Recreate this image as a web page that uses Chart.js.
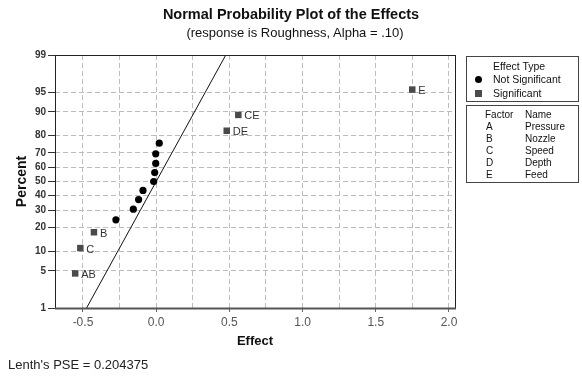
<!DOCTYPE html>
<html>
<head>
<meta charset="utf-8">
<script src="https://cdn.jsdelivr.net/npm/chart.js@4.4.1/dist/chart.umd.min.js"></script>
<style>
  body { margin: 0; background: #fff; }
  #wrap { position: relative; width: 582px; height: 376px; font-family: "Liberation Sans", Arial, sans-serif; color: #111; }
  #c { position: absolute; left: 0; top: 0; }
  .t { position: absolute; white-space: nowrap; }
  #title { left: 0; width: 582px; text-align: center; top: 6px; font-size: 14.5px; font-weight: bold; }
  #sub { left: 4px; width: 582px; text-align: center; top: 25px; font-size: 13px; }
  .box { position: absolute; left: 466px; width: 113px; border: 1px solid #444; box-sizing: border-box; }
  #box1 { top: 56px; height: 46px; }
  #box2 { top: 105px; height: 78px; }
  .lg { font-size: 10.5px; }
  .fn { font-size: 10px; }
  #pse { left: 8px; top: 357px; font-size: 13px; color: #222; }
  .dot { position: absolute; width: 7px; height: 7px; border-radius: 50%; background: #000; }
  .sq { position: absolute; width: 7px; height: 7px; background: #4a4a4a; }
</style>
</head>
<body>
<div id="wrap">
  <canvas id="c" width="582" height="376"></canvas>
  <div class="t" id="title">Normal Probability Plot of the Effects</div>
  <div class="t" id="sub">(response is Roughness, Alpha = .10)</div>
  <div class="box" id="box1"></div>
  <div class="box" id="box2"></div>
  <div class="t" id="pse"></div>
</div>
<script>
// === ДАННЫЕ ===
// значимые эффекты (квадраты)
const sigNames = ['AB', 'C', 'B', 'DE', 'CE', 'E'];
const sigEffects = [-0.553, -0.518, -0.425, 0.482, 0.561, 1.749];
const sigPercents = [4.55, 11.04, 17.53, 82.47, 88.96, 95.45];

// незначимые эффекты (точки)
const notSigEffects = [-0.275, -0.156, -0.12, -0.09, -0.017, -0.01, -0.003, -0.003, 0.021];
const notSigPercents = [24.03, 30.52, 37.01, 43.51, 50.0, 56.49, 62.99, 69.48, 75.97];

// линия нормального распределения: эффект = PSE * z
const lenthPSE = 0.204375;
const refLinePercents = [1, 99];

// оси
const yTickPercents = [1, 5, 10, 20, 30, 40, 50, 60, 70, 80, 90, 95, 99];
const xGridValues = [-0.5, -0.25, 0, 0.25, 0.5, 0.75, 1.0, 1.25, 1.5, 1.75, 2.0];
const xTickLabels = [-0.5, 0, 0.5, 1.0, 1.5, 2.0];

// легенда
const effectTypes = ['Not Significant', 'Significant'];
const factorLetters = ['A', 'B', 'C', 'D', 'E'];
const factorNames = ['Pressure', 'Nozzle', 'Speed', 'Depth', 'Feed'];

// === обратная функция нормального распределения (Acklam) ===
function probit(p) {
  const a = [-3.969683028665376e+01, 2.209460984245205e+02, -2.759285104469687e+02, 1.383577518672690e+02, -3.066479806614716e+01, 2.506628277459239e+00];
  const b = [-5.447609879822406e+01, 1.615858368580409e+02, -1.556989798598866e+02, 6.680131188771972e+01, -1.328068155288572e+01];
  const c = [-7.784894002430293e-03, -3.223964580411365e-01, -2.400758277161838e+00, -2.549732539343734e+00, 4.374664141464968e+00, 2.938163982698783e+00];
  const d = [7.784695709041462e-03, 3.224671290700398e-01, 2.445134137142996e+00, 3.754408661907416e+00];
  const pl = 0.02425;
  let q, r;
  if (p < pl) {
    q = Math.sqrt(-2 * Math.log(p));
    return (((((c[0]*q+c[1])*q+c[2])*q+c[3])*q+c[4])*q+c[5]) / ((((d[0]*q+d[1])*q+d[2])*q+d[3])*q+1);
  }
  if (p > 1 - pl) {
    q = Math.sqrt(-2 * Math.log(1 - p));
    return -(((((c[0]*q+c[1])*q+c[2])*q+c[3])*q+c[4])*q+c[5]) / ((((d[0]*q+d[1])*q+d[2])*q+d[3])*q+1);
  }
  q = p - 0.5; r = q * q;
  return (((((a[0]*r+a[1])*r+a[2])*r+a[3])*r+a[4])*r+a[5])*q / (((((b[0]*r+b[1])*r+b[2])*r+b[3])*r+b[4])*r+1);
}

const zMin = probit(0.01);
const zMax = probit(0.99);

// === HTML легенда ===
const box1 = document.getElementById('box1');
box1.innerHTML = `<div class="t lg" style="left:26px;top:3px">Effect Type</div>
  <div class="dot" style="left:8px;top:19px"></div><div class="t lg" style="left:26px;top:16px">${effectTypes[0]}</div>
  <div class="sq" style="left:8px;top:33px"></div><div class="t lg" style="left:26px;top:30px">${effectTypes[1]}</div>`;
const box2 = document.getElementById('box2');
let html = `<div class="t fn" style="left:18px;top:3px">Factor</div><div class="t fn" style="left:58px;top:3px">Name</div>`;
factorLetters.forEach((f, i) => {
  html += `<div class="t fn" style="left:19px;top:${15 + i * 12}px">${f}</div><div class="t fn" style="left:58px;top:${15 + i * 12}px">${factorNames[i]}</div>`;
});
box2.innerHTML = html;
document.getElementById('pse').textContent = `Lenth's PSE = ${lenthPSE}`;

// === плагины: рамка и подписи точек ===
const framePlugin = {
  id: 'frame',
  afterDraw(chart) {
    const { ctx, chartArea: a } = chart;
    ctx.save();
    ctx.strokeStyle = '#222';
    ctx.lineWidth = 1;
    ctx.strokeRect(a.left + 0.5, a.top + 0.5, a.right - a.left, a.bottom - a.top);
    ctx.strokeStyle = '#555';
    ctx.lineWidth = 2;
    ctx.beginPath();
    ctx.moveTo(a.left, a.bottom + 0.5);
    ctx.lineTo(a.right + 1, a.bottom + 0.5);
    ctx.stroke();
    ctx.restore();
  }
};

const labelPlugin = {
  id: 'pointLabels',
  afterDatasetsDraw(chart) {
    const { ctx } = chart;
    const meta = chart.getDatasetMeta(1);
    ctx.save();
    ctx.font = '11px "Liberation Sans", Arial, sans-serif';
    ctx.fillStyle = '#333';
    ctx.textBaseline = 'middle';
    meta.data.forEach((pt, i) => {
      ctx.fillText(sigNames[i], pt.x + 6, pt.y + 1.5);
    });
    ctx.restore();
  }
};

// === ГРАФИК ===
const chart = new Chart(document.getElementById('c'), {
  type: 'scatter',
  data: {
    datasets: [
      {
        label: effectTypes[0],
        data: notSigEffects.map((e, i) => ({ x: e, y: probit(notSigPercents[i] / 100) })),
        pointStyle: 'circle',
        pointRadius: 3.6,
        backgroundColor: '#000',
        borderColor: '#000',
        borderWidth: 0
      },
      {
        label: effectTypes[1],
        data: sigEffects.map((e, i) => ({ x: e, y: probit(sigPercents[i] / 100) })),
        pointStyle: 'rect',
        pointRadius: 4.6,
        backgroundColor: '#4a4a4a',
        borderColor: '#4a4a4a',
        borderWidth: 0
      },
      {
        type: 'line',
        label: 'ref',
        data: refLinePercents.map(p => ({ x: lenthPSE * probit(p / 100), y: probit(p / 100) })),
        borderColor: '#111',
        borderWidth: 1,
        pointRadius: 0,
        fill: false
      }
    ]
  },
  options: {
    responsive: false,
    devicePixelRatio: 1,
    animation: false,
    layout: { padding: { left: 0, top: 55, right: 127, bottom: 20 } },
    plugins: {
      legend: { display: false },
      tooltip: { enabled: false },
      title: { display: false }
    },
    scales: {
      x: {
        type: 'linear',
        min: -0.691,
        max: 2.041,
        afterFit: s => { s.height = 48; },
        afterBuildTicks: s => { s.ticks = xGridValues.map(v => ({ value: v })); },
        border: { display: false, dash: [5, 3] },
        grid: {
          color: '#bdbdbd',
          tickLength: 4,
          tickColor: ctx => (xTickLabels.includes(ctx.tick && ctx.tick.value) ? '#666' : 'rgba(0,0,0,0)')
        },
        ticks: {
          padding: 3,
          maxRotation: 0,
          autoSkip: false,
          color: '#555',
          font: { family: '"Liberation Sans", Arial, sans-serif', size: 12 },
          callback: v => (xTickLabels.includes(v) ? v.toFixed(1) : '')
        },
        title: {
          display: true,
          text: 'Effect',
          color: '#111',
          font: { family: '"Liberation Sans", Arial, sans-serif', size: 13, weight: 'bold' },
          padding: { top: 0, bottom: 7 }
        }
      },
      y: {
        type: 'linear',
        min: zMin,
        max: zMax,
        afterFit: s => { s.width = 55; },
        afterBuildTicks: s => { s.ticks = yTickPercents.map(p => ({ value: probit(p / 100) })); },
        border: { display: false, dash: [5, 3] },
        grid: {
          color: '#bdbdbd',
          tickLength: 7,
          tickColor: '#333'
        },
        ticks: {
          padding: 2,
          autoSkip: false,
          color: '#333',
          font: { family: '"Liberation Sans", Arial, sans-serif', size: 10, weight: 'bold' },
          callback: (v, i) => String(yTickPercents[i])
        },
        title: {
          display: true,
          text: 'Percent',
          color: '#111',
          font: { family: '"Liberation Sans", Arial, sans-serif', size: 14, weight: 'bold' },
          padding: { top: 14, bottom: 0 }
        }
      }
    }
  },
  plugins: [framePlugin, labelPlugin]
});
</script>
</body>
</html>
